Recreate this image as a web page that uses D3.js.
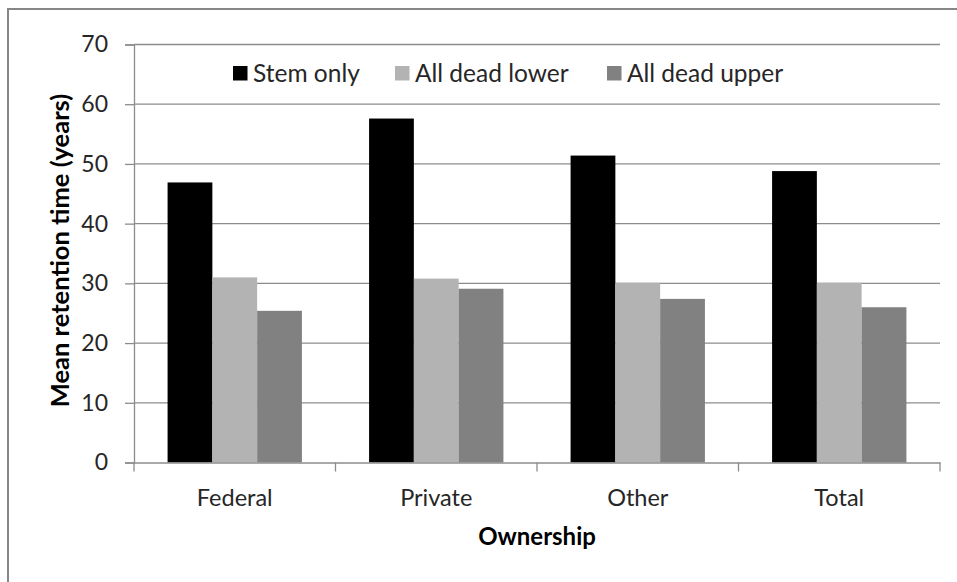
<!DOCTYPE html>
<html><head><meta charset="utf-8">
<script src="https://cdn.jsdelivr.net/npm/d3@7"></script>
<style>body{margin:0;background:#fff}svg{display:block}</style>
</head><body>
<script>
const categories = ["Federal", "Private", "Other", "Total"];
const seriesNames = ["Stem only", "All dead lower", "All dead upper"];
const stemOnly = [46.9, 57.6, 51.4, 48.8];
const allDeadLower = [31.0, 30.8, 30.1, 30.1];
const allDeadUpper = [25.4, 29.1, 27.4, 26.0];
const yTicks = [0, 10, 20, 30, 40, 50, 60, 70];
const colors = ["#000000", "#b3b3b3", "#818181"];
const seriesValues = [stemOnly, allDeadLower, allDeadUpper];

(function () {
const W = 957, H = 582;
const font = "Lato, 'Open Sans', sans-serif";
const svg = d3.select("body").append("svg").attr("width", W).attr("height", H);

// outer chart border
svg.append("rect").attr("x", 8).attr("y", 9).attr("width", W + 20).attr("height", H + 20)
  .attr("fill", "#fff").attr("stroke", "#868686").attr("stroke-width", 2);

const pLeft = 134, pRight = 940, pTop = 44.5, pBottom = 462.5;
const x = d3.scaleBand().domain(categories).range([pLeft, pRight]).paddingInner(0).paddingOuter(0);
const bw = x.bandwidth() / 4.5;
const xs = d3.scaleBand().domain(seriesNames).range([0.75 * bw, 3.75 * bw]);
const y = d3.scaleLinear().domain([0, 70]).range([pBottom, pTop]);

// gridlines
svg.append("g").selectAll("line").data(yTicks.filter(d => d > 0)).join("line")
  .attr("x1", pLeft).attr("x2", pRight).attr("y1", d => y(d)).attr("y2", d => y(d))
  .attr("stroke", "#8c8c8c").attr("stroke-width", 1.3);

// bars
const groups = svg.append("g").selectAll("g").data(seriesNames).join("g")
  .attr("fill", (d, i) => colors[i]);
groups.selectAll("rect").data((s, i) => categories.map((c, j) => ({c, s, v: seriesValues[i][j]})))
  .join("rect")
  .attr("x", d => x(d.c) + xs(d.s)).attr("width", xs.bandwidth())
  .attr("y", d => y(d.v)).attr("height", d => y(0) - y(d.v));

// y axis
const yAxis = svg.append("g").attr("transform", `translate(${pLeft},0)`)
  .call(d3.axisLeft(y).tickValues(yTicks).tickSize(9).tickPadding(17).tickFormat(d3.format("d")));
yAxis.attr("font-family", null).attr("font-size", null);
yAxis.select(".domain").attr("stroke", "#8c8c8c").attr("stroke-width", 1.3);
yAxis.selectAll(".tick line").attr("stroke", "#8c8c8c").attr("stroke-width", 1.3);
yAxis.selectAll("text").attr("font-family", font).attr("font-size", 23).attr("fill", "#262626");

// x axis
const xAxis = svg.append("g").attr("transform", `translate(0,${pBottom})`)
  .call(d3.axisBottom(x).tickSize(0));
xAxis.attr("font-family", null).attr("font-size", null);
xAxis.select(".domain").attr("stroke", "#8c8c8c").attr("stroke-width", 1.3);
xAxis.selectAll("text").attr("y", 43.5).attr("dy", 0)
  .attr("font-family", font).attr("font-size", 23.5).attr("fill", "#262626");
svg.append("g").selectAll("line").data(categories.concat(["__end"])).join("line")
  .attr("x1", d => d === "__end" ? pRight : x(d)).attr("x2", d => d === "__end" ? pRight : x(d))
  .attr("y1", pBottom).attr("y2", pBottom + 9)
  .attr("stroke", "#8c8c8c").attr("stroke-width", 1.3);

// axis titles
svg.append("text").attr("x", 537).attr("y", 545).attr("text-anchor", "middle")
  .attr("font-family", font).attr("font-size", 24).attr("font-weight", "bold").attr("fill", "#000")
  .text("Ownership");
svg.append("text").attr("transform", "translate(69,250.5) rotate(-90)").attr("text-anchor", "middle")
  .attr("font-family", font).attr("font-size", 25.5).attr("font-weight", "bold").attr("fill", "#000")
  .text("Mean retention time (years)");

// legend
const legendX = [233, 395, 607];
const lg = svg.append("g").selectAll("g").data(seriesNames).join("g")
  .attr("transform", (d, i) => `translate(${legendX[i]},66)`);
lg.append("rect").attr("width", 14.5).attr("height", 14.5).attr("fill", (d, i) => colors[i]);
lg.append("text").attr("x", 20).attr("y", 15.5).attr("font-family", font).attr("font-size", 24.5)
  .attr("fill", "#262626").text(d => d);
})();
</script>
</body></html>
